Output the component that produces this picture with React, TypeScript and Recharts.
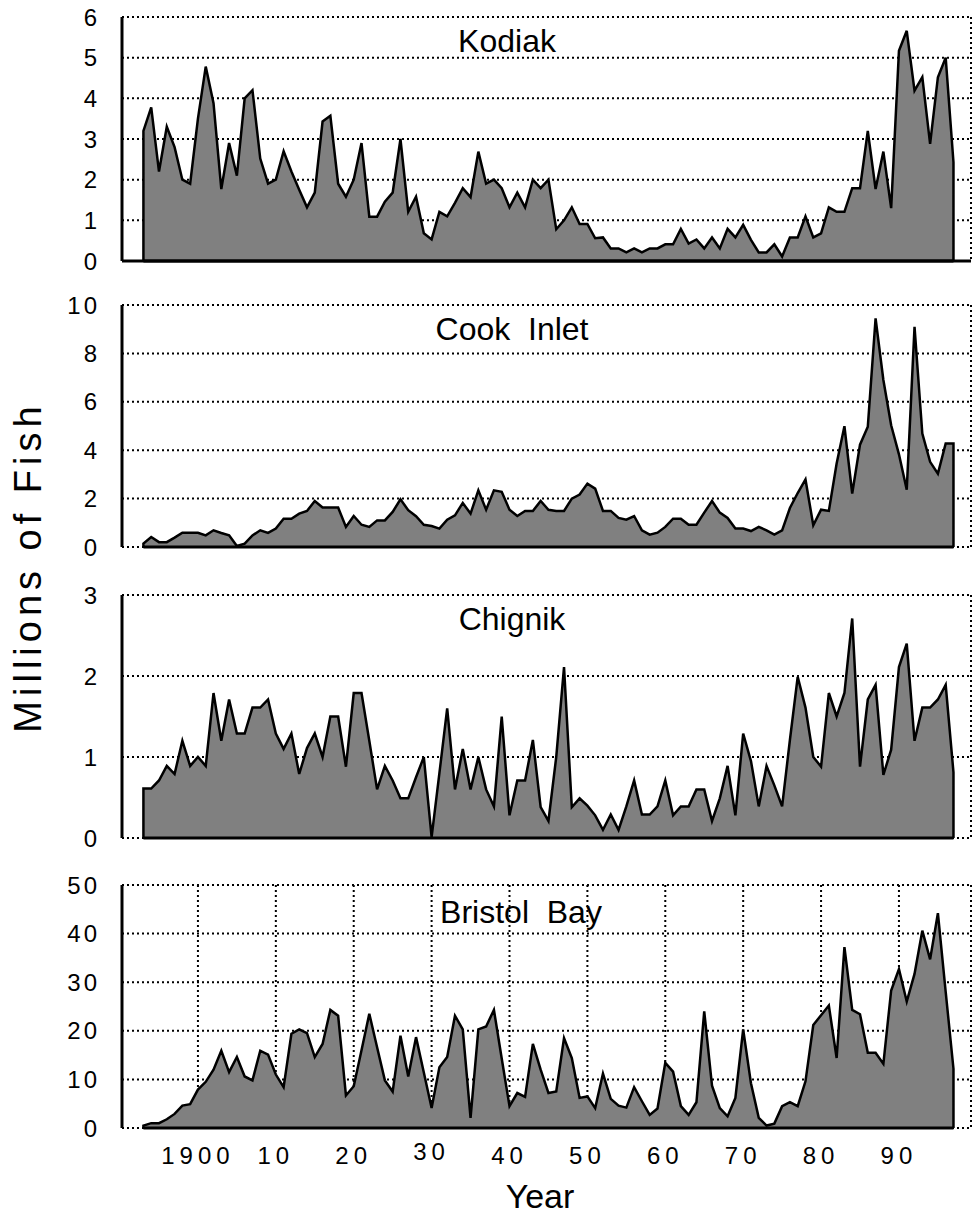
import React from 'react';
import { AreaChart, Area, XAxis, YAxis, CartesianGrid, ReferenceLine } from 'recharts';

const years = [
  1893, 1894, 1895, 1896, 1897, 1898, 1899, 1900, 1901, 1902,
  1903, 1904, 1905, 1906, 1907, 1908, 1909, 1910, 1911, 1912,
  1913, 1914, 1915, 1916, 1917, 1918, 1919, 1920, 1921, 1922,
  1923, 1924, 1925, 1926, 1927, 1928, 1929, 1930, 1931, 1932,
  1933, 1934, 1935, 1936, 1937, 1938, 1939, 1940, 1941, 1942,
  1943, 1944, 1945, 1946, 1947, 1948, 1949, 1950, 1951, 1952,
  1953, 1954, 1955, 1956, 1957, 1958, 1959, 1960, 1961, 1962,
  1963, 1964, 1965, 1966, 1967, 1968, 1969, 1970, 1971, 1972,
  1973, 1974, 1975, 1976, 1977, 1978, 1979, 1980, 1981, 1982,
  1983, 1984, 1985, 1986, 1987, 1988, 1989, 1990, 1991, 1992,
  1993, 1994, 1995, 1996, 1997,
];

const kodiak = [
  3.2, 3.78, 2.2, 3.3, 2.8, 2.0, 1.9, 3.5, 4.78, 3.88,
  1.77, 2.9, 2.1, 4.0, 4.2, 2.52, 1.9, 2.0, 2.7, 2.2,
  1.75, 1.32, 1.68, 3.43, 3.57, 1.9, 1.58, 2.0, 2.9, 1.09,
  1.09, 1.46, 1.68, 3.0, 1.21, 1.58, 0.68, 0.53, 1.21, 1.1,
  1.43, 1.79, 1.57, 2.69, 1.9, 2.0, 1.79, 1.32, 1.68, 1.32,
  2.0, 1.79, 2.0, 0.78, 1.0, 1.32, 0.91, 0.91, 0.56, 0.58,
  0.31, 0.31, 0.21, 0.31, 0.21, 0.31, 0.31, 0.41, 0.41, 0.79,
  0.43, 0.53, 0.31, 0.58, 0.31, 0.79, 0.58, 0.89, 0.52, 0.21,
  0.21, 0.41, 0.11, 0.58, 0.58, 1.1, 0.58, 0.68, 1.32, 1.21,
  1.21, 1.79, 1.79, 3.2, 1.77, 2.69, 1.3, 5.17, 5.66, 4.19,
  4.52, 2.88, 4.52, 5.0, 2.43,
];

const cookInlet = [
  0.14, 0.41, 0.2, 0.2, 0.39, 0.59, 0.59, 0.59, 0.48, 0.69,
  0.58, 0.48, 0.04, 0.14, 0.48, 0.69, 0.58, 0.76, 1.17, 1.17,
  1.38, 1.49, 1.9, 1.63, 1.63, 1.63, 0.83, 1.28, 0.92, 0.83,
  1.1, 1.1, 1.45, 1.97, 1.52, 1.27, 0.92, 0.87, 0.76, 1.13,
  1.31, 1.82, 1.38, 2.34, 1.54, 2.34, 2.28, 1.54, 1.28, 1.49,
  1.49, 1.9, 1.54, 1.49, 1.49, 2.0, 2.17, 2.62, 2.41, 1.49,
  1.49, 1.2, 1.13, 1.28, 0.69, 0.51, 0.59, 0.83, 1.17, 1.17,
  0.92, 0.92, 1.42, 1.9, 1.42, 1.2, 0.76, 0.76, 0.66, 0.83,
  0.69, 0.51, 0.69, 1.61, 2.23, 2.79, 0.9, 1.54, 1.49, 3.45,
  4.99, 2.21, 4.23, 4.97, 9.45, 6.9, 5.03, 3.83, 2.37, 9.1,
  4.69, 3.52, 3.03, 4.28, 4.28,
];

const chignik = [
  0.61, 0.61, 0.71, 0.89, 0.79, 1.2, 0.89, 1.0, 0.89, 1.79,
  1.2, 1.71, 1.29, 1.29, 1.61, 1.61, 1.71, 1.29, 1.1, 1.29,
  0.79, 1.11, 1.29, 1.0, 1.5, 1.5, 0.88, 1.79, 1.79, 1.2,
  0.6, 0.89, 0.71, 0.49, 0.49, 0.75, 1.0, 0.01, 0.8, 1.6,
  0.6, 1.1, 0.6, 1.0, 0.6, 0.39, 1.5, 0.28, 0.71, 0.71,
  1.21, 0.38, 0.21, 1.0, 2.11, 0.38, 0.49, 0.4, 0.28, 0.1,
  0.29, 0.1, 0.39, 0.71, 0.29, 0.29, 0.39, 0.71, 0.28, 0.39,
  0.39, 0.6, 0.6, 0.21, 0.49, 0.89, 0.28, 1.29, 0.95, 0.39,
  0.89, 0.65, 0.39, 1.21, 1.99, 1.61, 1.0, 0.88, 1.79, 1.5,
  1.79, 2.71, 0.88, 1.71, 1.89, 0.78, 1.09, 2.11, 2.4, 1.2,
  1.61, 1.61, 1.71, 1.89, 0.81,
];

const bristolBay = [
  0.5, 1.0, 1.0, 1.8, 2.9, 4.6, 4.9, 7.9, 9.5, 12.0,
  15.9, 11.5, 14.6, 10.6, 9.8, 15.9, 15.1, 11.0, 8.4, 19.4,
  20.3, 19.5, 14.6, 17.3, 24.3, 23.1, 6.7, 8.6, 16.0, 23.5,
  16.6, 9.8, 7.5, 19.0, 10.6, 18.7, 11.4, 4.1, 12.5, 14.6,
  23.1, 20.3, 2.1, 20.3, 20.9, 24.3, 14.3, 4.5, 7.2, 6.4,
  17.3, 12.0, 7.2, 7.5, 18.5, 14.4, 6.2, 6.5, 4.1, 11.2,
  6.0, 4.6, 4.2, 8.4, 5.5, 2.7, 4.0, 13.4, 11.6, 4.5,
  2.7, 5.3, 24.0, 8.7, 4.1, 2.4, 6.2, 20.3, 9.2, 2.1,
  0.5, 0.9, 4.5, 5.3, 4.5, 9.6, 21.2, 23.2, 25.2, 14.4,
  37.2, 24.3, 23.4, 15.5, 15.5, 13.2, 28.3, 32.7, 26.0, 31.7,
  40.6, 34.7, 44.2, 28.0, 12.2,
];

const xTicks = [1900, 1910, 1920, 1930, 1940, 1950, 1960, 1970, 1980, 1990];
const xTickLabels = ['1900', '10', '20', '30', '40', '50', '60', '70', '80', '90'];

const kodiakTicks = [0, 1, 2, 3, 4, 5, 6];
const cookTicks = [0, 2, 4, 6, 8, 10];
const chignikTicks = [0, 1, 2, 3];
const bristolTicks = [0, 10, 20, 30, 40, 50];

const titles = ['Kodiak', 'Cook\u00a0\u00a0Inlet', 'Chignik', 'Bristol\u00a0\u00a0Bay'];

const FONT = '"Liberation Sans", Arial, Helvetica, sans-serif';
const X_DOMAIN: [number, number] = [1890.25, 1999.25];

const buildTable = (values: number[]) => {
  const rows = years.map((yr, i) => ({ year: yr, v: values[i] }));
  return [{ year: years[0], v: 0 }, ...rows, { year: years[years.length - 1], v: 0 }];
};

const YTick = (props: any) => {
  const { x, y, payload } = props;
  return (
    <text x={x - 20} y={y} dy="0.36em" textAnchor="end" fontSize={24} fontFamily={FONT}
      letterSpacing={3} fill="#000">
      {payload.value}
    </text>
  );
};

const XTick = (props: any) => {
  const { x, y, payload } = props;
  const i = xTicks.indexOf(payload.value);
  const lift = payload.value === 1930 ? -4 : 0;
  return (
    <text x={x} y={y + 34 + lift} textAnchor="middle" fontSize={24} fontFamily={FONT}
      letterSpacing={5} fill="#000">
      {i >= 0 ? xTickLabels[i] : ''}
    </text>
  );
};

type PanelProps = {
  values: number[];
  ticks: number[];
  top: number;
  plotH: number;
  bottom?: boolean;
  solidAxis?: boolean;
};

const Panel = ({ values, ticks, top, plotH, bottom, solidAxis }: PanelProps) => {
  const xH = bottom ? 60 : 18;
  const data = buildTable(values);
  return (
    <div style={{ position: 'absolute', left: 0, top }}>
      <AreaChart width={973} height={17 + plotH + xH} data={data}
        margin={{ top: 17, right: 2, bottom: 0, left: 0 }}>
        <CartesianGrid stroke="#000" strokeWidth={2} strokeDasharray="2 3" />
        <XAxis type="number" dataKey="year" domain={X_DOMAIN} ticks={xTicks} interval={0}
          allowDataOverflow height={xH} tickLine={false} tickSize={0}
          axisLine={solidAxis ? { stroke: '#000', strokeWidth: 3 } : false}
          tick={bottom ? <XTick /> : false} />
        <YAxis type="number" domain={[ticks[0], ticks[ticks.length - 1]]} ticks={ticks}
          interval={0} allowDataOverflow width={122} tickLine={false} tickSize={0}
          axisLine={{ stroke: '#000', strokeWidth: 3 }} tick={<YTick />} />
        <Area type="linear" dataKey="v" stroke="#000" strokeWidth={2.5} fill="#808080"
          fillOpacity={1} dot={false} activeDot={false} isAnimationActive={false} />
        <ReferenceLine segment={[{ x: years[0], y: 0 }, { x: years[years.length - 1], y: 0 }]}
          stroke="#000" strokeWidth={3} />
      </AreaChart>
    </div>
  );
};

export default function App() {
  return (
    <div style={{ position: 'absolute', left: 0, top: 0, width: 973, height: 1217, background: '#fff', overflow: 'hidden' }}>
      <Panel values={kodiak} ticks={kodiakTicks} top={0} plotH={244} solidAxis />
      <Panel values={cookInlet} ticks={cookTicks} top={288} plotH={242} />
      <Panel values={chignik} ticks={chignikTicks} top={578} plotH={243} />
      <Panel values={bristolBay} ticks={bristolTicks} top={868} plotH={243} bottom />
      <svg width={973} height={1217} style={{ position: 'absolute', left: 0, top: 0, pointerEvents: 'none' }}>
        <g fontFamily={FONT} fill="#000">
          <text x={507} y={52} fontSize={32} textAnchor="middle">{titles[0]}</text>
          <text x={512} y={340} fontSize={32} textAnchor="middle">{titles[1]}</text>
          <text x={512} y={630} fontSize={32} textAnchor="middle">{titles[2]}</text>
          <text x={521} y={923} fontSize={32} textAnchor="middle">{titles[3]}</text>
          <text x={41} y={567} fontSize={38} letterSpacing={5} textAnchor="middle"
            transform="rotate(-90 41 567)">Millions of Fish</text>
          <text x={540} y={1208} fontSize={34} textAnchor="middle">Year</text>
        </g>
      </svg>
    </div>
  );
}
